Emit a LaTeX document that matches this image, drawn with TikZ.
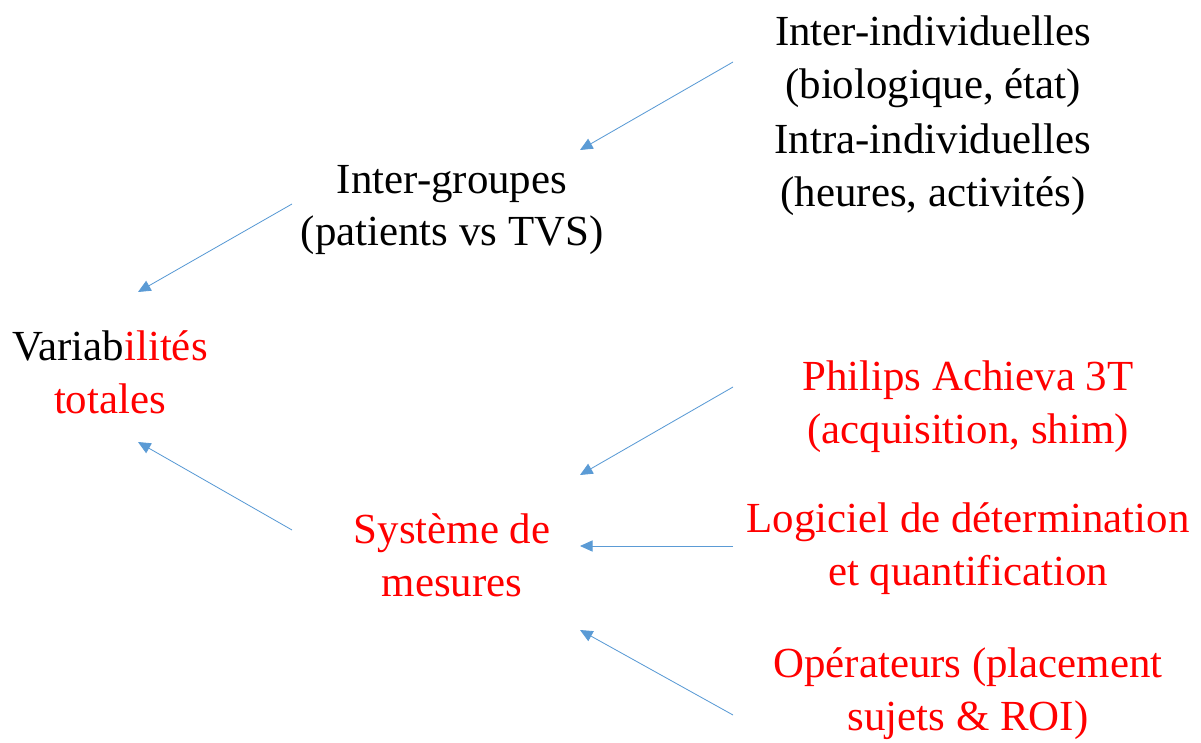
\documentclass[tikz,border=0pt]{standalone}
\usepackage{fontspec}
\setmainfont{Liberation Serif}
\usepackage{tikz}
\usetikzlibrary{arrows.meta}
\definecolor{arrblue}{HTML}{5B9BD5}
\definecolor{txtred}{HTML}{FF0000}
\tikzset{
  lbl/.style={align=center, inner sep=0pt, font=\fontsize{30.5}{37.5}\selectfont},
  redlbl/.style={lbl, text=txtred},
  arr/.style={draw=arrblue, line width=0.6pt, -{Triangle[length=9pt, width=8pt]}}
}
\begin{document}
\begin{tikzpicture}[x=0.025cm, y=-0.025cm]
        \useasboundingbox (0, 0) rectangle (1201, 742);
        % labels
        \node[lbl] (inter) at (933, 62) {Inter-individuelles\\(biologique, état)};
        \node[lbl] (intra) at (933, 170) {Intra-individuelles\\(heures, activités)};
        \node[lbl] (groupes) at (452, 210) {Inter-groupes\\(patients vs TVS)};
        \node[lbl] (total) at (110, 372) {Variab\textcolor{txtred}{ilités}\\\textcolor{txtred}{totales}};
        \node[redlbl] (systeme) at (452, 555) {Système de\\mesures};
        \node[redlbl] (philips) at (968, 407) {Philips Achieva 3T\\(acquisition, shim)};
        \node[redlbl] (logiciel) at (968, 549) {Logiciel de détermination\\et quantification};
        \node[redlbl] (operateurs) at (968, 694) {Opérateurs (placement\\sujets \& ROI)};
        % arrow ends
        \coordinate (a1) at (733, 62);
        \coordinate (b1) at (580, 150);
        \coordinate (a2) at (292, 204);
        \coordinate (b2) at (138, 292);
        \coordinate (a3) at (292, 530);
        \coordinate (b3) at (138, 442);
        \coordinate (a4) at (733, 387);
        \coordinate (b4) at (580, 475);
        \coordinate (a5) at (733, 546);
        \coordinate (b5) at (580, 546);
        \coordinate (a6) at (733, 715);
        \coordinate (b6) at (580, 630);
        \foreach \i in {1,...,6}
          \draw[arr] (a\i) -- (b\i);
      \end{tikzpicture}
\end{document}
